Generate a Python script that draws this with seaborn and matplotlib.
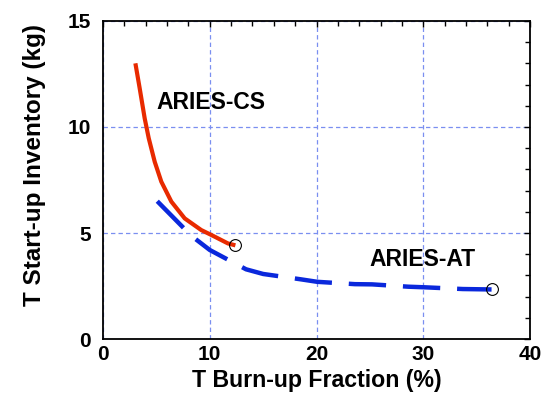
import matplotlib
matplotlib.use("Agg")
import matplotlib.pyplot as plt
import seaborn as sns
import pandas as pd
from matplotlib.ticker import MultipleLocator

# ARIES-CS curve
cs_x = [3.03, 3.43, 3.90, 4.28, 4.84, 5.46, 6.40, 7.65, 9.2, 10.14, 11.7, 12.4]
cs_y = [13.0, 11.83, 10.41, 9.47, 8.36, 7.42, 6.48, 5.69, 5.14, 4.91, 4.51, 4.42]
# ARIES-AT curve
at_x = [5.08, 8.27, 10.0, 13.4, 15.0, 18.5, 20.07, 23.6, 25.2, 28.6, 30.2, 33.7, 36.4]
at_y = [6.5, 4.87, 4.2, 3.29, 3.07, 2.82, 2.70, 2.59, 2.58, 2.47, 2.44, 2.36, 2.34]
# end markers
end_x = [12.4, 36.4]
end_y = [4.42, 2.34]

labels = ["ARIES-CS", "ARIES-AT"]
x_label = "T Burn-up Fraction (%)"
y_label = "T Start-up Inventory (kg)"

sns.set_style("white")
plt.rcParams["font.family"] = ["Liberation Sans", "DejaVu Sans"]
plt.rcParams["font.weight"] = "bold"
for k in ["text.color", "axes.labelcolor", "xtick.color", "ytick.color"]:
    plt.rcParams[k] = "black"

fig = plt.figure(figsize=(5.57, 3.98), dpi=100)
ax = fig.add_axes([0.185, 0.148, 0.7665, 0.7995])

cs = pd.DataFrame({"x": cs_x, "y": cs_y})
at = pd.DataFrame({"x": at_x, "y": at_y})
ends = pd.DataFrame({"x": end_x, "y": end_y})

sns.lineplot(data=cs, x="x", y="y", ax=ax, color="#e82a00", linewidth=3.0,
             sort=False, solid_capstyle="butt", solid_joinstyle="round")
sns.lineplot(data=at, x="x", y="y", ax=ax, color="#0a28dc", linewidth=3.2,
             sort=False, linestyle=(0, (8.4, 3.8)), dash_capstyle="butt",
             dash_joinstyle="round")
ax.plot(ends["x"], ends["y"], linestyle="none", marker="o", markersize=8.5,
        markerfacecolor="none", markeredgecolor="black", markeredgewidth=0.8, zorder=5)

ax.text(4.96, 11.13, labels[0], fontsize=16.5, fontweight="bold", ha="left", va="center")
ax.text(25.0, 3.73, labels[1], fontsize=16.5, fontweight="bold", ha="left", va="center")

ax.set_xlim(0, 40)
ax.set_ylim(0, 15)
ax.xaxis.set_major_locator(MultipleLocator(10))
ax.xaxis.set_minor_locator(MultipleLocator(2))
ax.yaxis.set_major_locator(MultipleLocator(5))
ax.yaxis.set_minor_locator(MultipleLocator(1))
ax.tick_params(which="both", direction="in", top=True, right=True,
               width=1.0, color="black")
ax.tick_params(which="major", length=4.5, labelsize=15, pad=4)
ax.tick_params(which="minor", length=3.5)
ax.tick_params(axis="y", which="major", pad=9)
for lbl in ax.get_xticklabels() + ax.get_yticklabels():
    lbl.set_fontweight("bold")

ax.grid(True, which="major", color="#7a8ff0", linestyle=(0, (3.5, 2.5)), linewidth=0.9)
for s in ax.spines.values():
    s.set_color("black")
    s.set_linewidth(1.3)

ax.set_xlabel(x_label, fontsize=16.7, fontweight="bold", labelpad=4)
ax.set_ylabel(y_label, fontsize=17.5, fontweight="bold")
# label right edge at about pixel x=46, centred near pixel y=165
ax.yaxis.set_label_coords((46 - 103) / 427, (339 - 165) / 318)

fig.savefig("out.png", dpi=100)
